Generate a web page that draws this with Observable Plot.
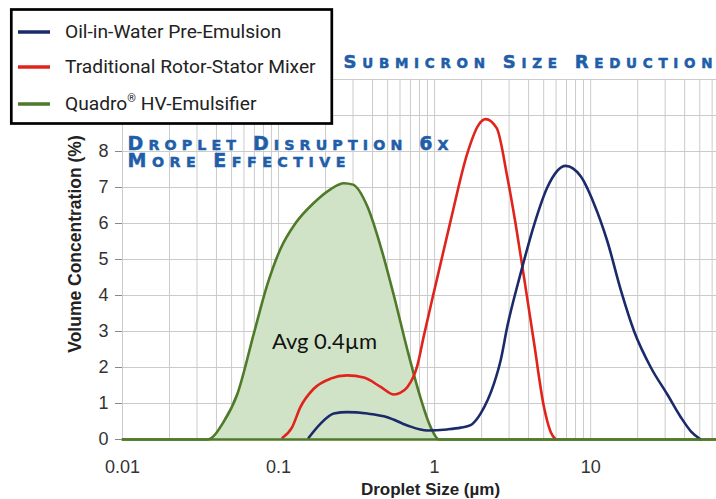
<!DOCTYPE html>
<html><head><meta charset="utf-8">
<script src="https://cdn.jsdelivr.net/npm/d3@7"></script>
<script src="https://cdn.jsdelivr.net/npm/@observablehq/plot@0.6"></script>
<style>
html,body{margin:0;padding:0;background:#fff;}
#chart{width:716px;height:499px;overflow:hidden;}
</style></head><body><div id="chart"></div>
<script>
// ---- data ----
const seriesNames = ["Oil-in-Water Pre-Emulsion", "Traditional Rotor-Stator Mixer", "Quadro® HV-Emulsifier"];
const seriesColors = ["#1b2a6b", "#e0241c", "#4e7a2a"];
const quadroFill = "#d1e3c6";

const preSize = [0.156, 0.186, 0.226, 0.275, 0.371, 0.498, 0.668, 0.898, 1.2, 1.47, 1.7, 1.97, 2.4, 2.65, 2.92, 3.56, 4.33, 5.27, 6.9, 8.63, 10.5, 12.8, 15.6, 19.0, 24.3, 31.0, 37.8, 44.0, 50.7];
const preConc = [0.05, 0.44, 0.72, 0.76, 0.72, 0.62, 0.39, 0.25, 0.28, 0.33, 0.4, 0.72, 1.55, 2.2, 3.13, 4.62, 5.95, 7.0, 7.6, 7.31, 6.55, 5.5, 4.15, 3.0, 2.0, 1.25, 0.62, 0.22, 0];

const rotorSize = [0.106, 0.122, 0.138, 0.168, 0.215, 0.275, 0.352, 0.451, 0.548, 0.605, 0.668, 0.775, 0.85, 0.99, 1.27, 1.62, 1.9, 2.12, 2.5, 2.92, 3.3, 3.71, 4.33, 5.02, 5.55, 5.97];
const rotorConc = [0.05, 0.34, 0.9, 1.41, 1.69, 1.78, 1.72, 1.46, 1.25, 1.3, 1.45, 2.05, 2.85, 4.1, 6.1, 7.95, 8.72, 8.9, 8.65, 7.3, 6.0, 4.6, 2.7, 0.9, 0.2, 0];

const quadroSize = [0.01, 0.035, 0.0446, 0.0543, 0.0695, 0.0847, 0.103, 0.128, 0.168, 0.215, 0.262, 0.3, 0.371, 0.451, 0.548, 0.668, 0.813, 0.942, 1.07, 64];
const quadroConc = [0, 0, 0.5, 1.25, 2.95, 4.3, 5.3, 6.0, 6.57, 6.95, 7.12, 7.08, 6.47, 5.36, 4.0, 2.5, 1.15, 0.35, 0, 0];

const xTicks = [0.01, 0.1, 1, 10];
const yTicks = [0, 1, 2, 3, 4, 5, 6, 7, 8];
const xGrid = [0.01,0.02,0.03,0.04,0.05,0.06,0.07,0.08,0.09,0.1,0.2,0.3,0.4,0.5,0.6,0.7,0.8,0.9,1,2,3,4,5,6,7,8,9,10,20,30,40,50,60];
const yGrid = [0, 1, 2, 3, 4, 5, 6, 7, 8, 9, 10];
const xDomain = [0.01, 64];
const yDomain = [0, 10];

const xTitle = "Droplet Size (µm)";
const yTitle = "Volume Concentration (%)";
const titleText = "Submicron Size Reduction";
const note1 = "Droplet Disruption 6x";
const note2 = "More Effective";
const avgText = "Avg 0.4µm";

// ---- build rows ----
const rows = (name, xs, ys) => xs.map((x, i) => ({series: name, size: x, conc: ys[i]}));
const pre = rows(seriesNames[0], preSize, preConc);
const rotor = rows(seriesNames[1], rotorSize, rotorConc);
const quadro = rows(seriesNames[2], quadroSize, quadroConc);

const blue = "#1f5ea8";
const headFont = "'DejaVu Sans', sans-serif";
const chart = Plot.plot({
  width: 716, height: 499,
  marginLeft: 122, marginRight: 0, marginTop: 79, marginBottom: 60,
  style: {fontFamily: "'Liberation Sans', Arial, sans-serif", background: "#fff", color: "#333", overflow: "visible"},
  x: {type: "log", domain: xDomain},
  y: {domain: yDomain},
  marks: [
    Plot.ruleY(yGrid, {stroke: "#cbcbcb", strokeWidth: 1}),
    Plot.ruleX(xGrid, {stroke: "#cbcbcb", strokeWidth: 1}),
    Plot.areaY(quadro, {x: "size", y: "conc", fill: quadroFill, curve: "monotone-x"}),
    Plot.line(quadro, {x: "size", y: "conc", stroke: seriesColors[2], strokeWidth: 2.6, curve: "monotone-x"}),
    Plot.line(rotor, {x: "size", y: "conc", stroke: seriesColors[1], strokeWidth: 2.6, curve: "monotone-x"}),
    Plot.line(pre, {x: "size", y: "conc", stroke: seriesColors[0], strokeWidth: 2.6, curve: "monotone-x"}),
    Plot.ruleY([0], {stroke: seriesColors[2], strokeWidth: 2.6}),
    Plot.axisX({ticks: xTicks, tickFormat: d => String(d), tickSize: 0, tickPadding: 21, fontSize: 18, label: null}),
    Plot.axisY({ticks: yTicks, tickSize: 7, tickPadding: 7, fontSize: 18, label: null}),
    Plot.text([xTitle], {frameAnchor: "bottom", dx: 11, dy: 55, fontSize: 17, fontWeight: "bold", fill: "#222"}),
    Plot.text([titleText], {x: [0.261], y: [10.31], textAnchor: "start", lineAnchor: "bottom", fontSize: 18, fontWeight: "bold", fill: blue, fontFamily: headFont}),
    Plot.text([note1], {x: [0.01077], y: [8.03], textAnchor: "start", lineAnchor: "bottom", fontSize: 18, fontWeight: "bold", fill: blue, fontFamily: headFont}),
    Plot.text([note2], {x: [0.01077], y: [7.56], textAnchor: "start", lineAnchor: "bottom", fontSize: 18, fontWeight: "bold", fill: blue, fontFamily: headFont}),
    Plot.text([avgText], {x: [0.197], y: [2.7], fontSize: 22, fill: "#111", fontFamily: "Lato, 'Open Sans', sans-serif"})
  ]
});

const svg = d3.select(chart);
// spaced small-caps headings: first letter of each word large, others smaller capitals
const heads = {[titleText]: [369, 18], [note1]: [321, 19], [note2]: [218, 19]};
svg.selectAll("text").each(function() {
  const t = this.textContent;
  if (!heads[t]) return;
  const [w, fs] = heads[t];
  const sel = d3.select(this);
  sel.text(null);
  t.split(" ").forEach((word, wi) => {
    sel.append("tspan").attr("font-size", fs).text((wi ? " " : "") + word[0].toUpperCase());
    if (word.length > 1) sel.append("tspan").attr("font-size", fs * 0.75).text(word.slice(1).toUpperCase());
  });
  sel.attr("textLength", w).attr("lengthAdjust", "spacing")
    .attr("stroke", blue).attr("stroke-width", 0.5);
});
svg.selectAll('[aria-label="y-axis tick"]').attr("stroke", "#888");
svg.selectAll('[aria-label="x-axis tick label"], [aria-label="y-axis tick label"]').attr("fill", "#333");

// y-axis title
svg.append("text").attr("transform", "translate(81,244) rotate(-90)")
  .attr("text-anchor", "middle").attr("font-size", 17.5).attr("font-weight", "bold")
  .attr("font-family", "'Liberation Sans', Arial, sans-serif").attr("fill", "#222").text(yTitle);

// legend
const lg = svg.append("g").attr("class", "legend").attr("text-anchor", "start");
lg.append("rect").attr("x", 11.3).attr("y", 9.5).attr("width", 320.5).attr("height", 114)
  .attr("fill", "#fff").attr("stroke", "#000").attr("stroke-width", 2.7);
const rowY = [32, 67, 104];
seriesNames.forEach((name, i) => {
  lg.append("line").attr("x1", 18).attr("x2", 50).attr("y1", rowY[i]).attr("y2", rowY[i])
    .attr("stroke", seriesColors[i]).attr("stroke-width", 3.5);
  const t = lg.append("text").attr("x", 65).attr("y", rowY[i] + 5.5).attr("text-anchor", "start")
    .attr("font-family", "Roboto, 'Liberation Sans', sans-serif").attr("font-size", 19.2).attr("fill", "#222");
  const parts = name.split("®");
  if (parts.length > 1) {
    t.append("tspan").text(parts[0]);
    t.append("tspan").attr("font-size", 11).attr("dy", -8).text("®");
    t.append("tspan").attr("dy", 8).text(parts[1]);
  } else t.text(name);
});

document.getElementById("chart").appendChild(chart);
</script>
</body></html>
